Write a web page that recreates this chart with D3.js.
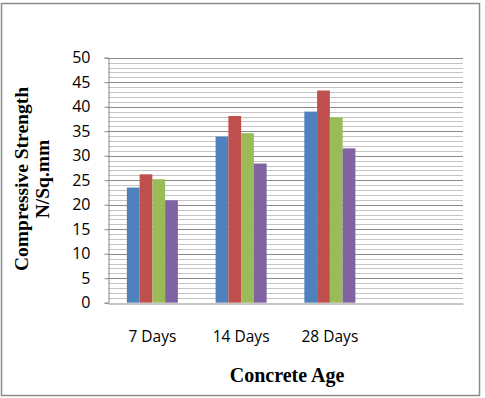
<!DOCTYPE html>
<html>
<head>
<meta charset="utf-8">
<script src="https://cdn.jsdelivr.net/npm/d3@7"></script>
<style>
  body { margin: 0; background: #fff; }
</style>
</head>
<body>
<div id="chart"></div>
<script>
// data
const categories = ['7 Days', '14 Days', '28 Days', ''];
const seriesNames = ['Mix 1', 'Mix 2', 'Mix 3', 'Mix 4'];
const mix1 = [23.5, 33.9, 39.0];
const mix2 = [26.2, 38.1, 43.3];
const mix3 = [25.2, 34.6, 37.8];
const mix4 = [20.9, 28.4, 31.5];
const yTicks = [0, 5, 10, 15, 20, 25, 30, 35, 40, 45, 50];
const colors = ['#4F81BD', '#C0504D', '#9BBB59', '#8064A2'];

const width = 485, height = 398;
const margin = {top: 57.7, left: 108, right: 22, bottom: 95.3};

const svg = d3.select('#chart').append('svg')
    .attr('width', width)
    .attr('height', height);

// outer frame
svg.append('rect')
    .attr('x', 1.5).attr('y', 3.5)
    .attr('width', 478).attr('height', 392)
    .attr('fill', '#fff')
    .attr('stroke', '#8c8c8c')
    .attr('stroke-width', 1.5);

const x = d3.scaleBand()
    .domain(categories.map((c, i) => i))
    .range([margin.left, width - margin.right])
    .paddingInner(0.425)
    .paddingOuter(0.2125);

const xs = d3.scaleBand()
    .domain(seriesNames)
    .range([0, x.bandwidth()]);

const y = d3.scaleLinear()
    .domain([0, 50])
    .range([height - margin.bottom, margin.top]);

// minor gridlines
svg.append('g')
    .selectAll('line')
    .data(d3.range(1, 50).filter(v => v % 5 !== 0))
    .enter().append('line')
    .attr('x1', margin.left).attr('x2', width - margin.right)
    .attr('y1', d => Math.round(y(d)) + 0.5).attr('y2', d => Math.round(y(d)) + 0.5)
    .attr('stroke', '#c4c4c4');

// major gridlines
svg.append('g')
    .selectAll('line')
    .data(yTicks.slice(1))
    .enter().append('line')
    .attr('x1', margin.left).attr('x2', width - margin.right)
    .attr('y1', d => Math.round(y(d)) + 0.5).attr('y2', d => Math.round(y(d)) + 0.5)
    .attr('stroke', '#8a8a8a');

// bars
const series = [mix1, mix2, mix3, mix4];
series.forEach((vals, s) => {
    svg.append('g')
        .selectAll('rect')
        .data(vals)
        .enter().append('rect')
        .attr('x', (d, i) => x(i) + xs(seriesNames[s]))
        .attr('y', d => y(d))
        .attr('width', xs.bandwidth())
        .attr('height', d => y(0) - y(d))
        .attr('fill', colors[s]);
});

// y axis
const yAxis = svg.append('g')
    .attr('transform', `translate(${margin.left + 0.5},0)`)
    .call(d3.axisLeft(y).tickValues(yTicks).tickSize(4).tickPadding(14));
yAxis.select('.domain').attr('stroke', '#8a8a8a');
yAxis.selectAll('.tick line').attr('stroke', '#8a8a8a');
yAxis.selectAll('.tick text')
    .attr('fill', '#000')
    .style('font-family', '"Open Sans", sans-serif')
    .style('font-size', '16px');

// x axis
const xAxis = svg.append('g')
    .attr('transform', `translate(0,${Math.round(y(0)) + 0.5})`)
    .call(d3.axisBottom(x).tickFormat(i => categories[i]).tickSize(0).tickPadding(27));
xAxis.select('.domain').attr('stroke', '#8a8a8a');
xAxis.selectAll('.tick text')
    .attr('fill', '#000')
    .style('font-family', '"Open Sans", sans-serif')
    .style('font-size', '15.5px');

// axis titles
svg.append('text')
    .attr('x', 287).attr('y', 382)
    .attr('text-anchor', 'middle')
    .style('font-family', '"Liberation Serif", serif')
    .style('font-weight', 'bold')
    .style('font-size', '20px')
    .text('Concrete Age');

const yTitle = svg.append('text')
    .attr('transform', 'translate(0,179) rotate(-90)')
    .attr('text-anchor', 'middle')
    .style('font-family', '"Liberation Serif", serif')
    .style('font-weight', 'bold')
    .style('font-size', '19.5px');
yTitle.append('tspan').attr('x', 0).attr('y', 28).text('Compressive Strength');
yTitle.append('tspan').attr('x', 0).attr('y', 49).text('N/Sq.mm');
</script>
</body>
</html>
